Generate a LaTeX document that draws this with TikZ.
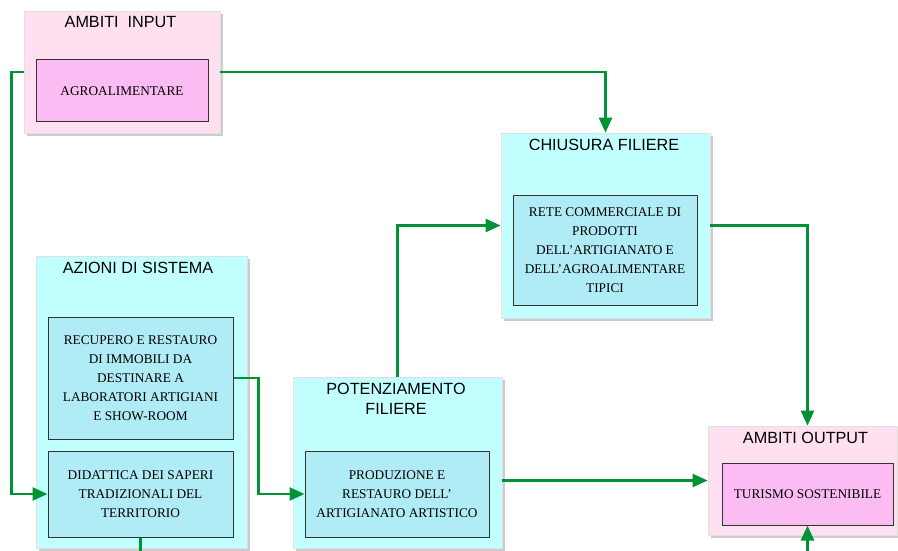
\documentclass[tikz,border=0pt]{standalone}
\usepackage{fontspec}
\setmainfont{Liberation Serif}
\newfontfamily\titlefont{Liberation Sans}
\usetikzlibrary{arrows.meta, shadows}

\definecolor{colFlow}{RGB}{0,146,54}
\definecolor{colPinkOut}{RGB}{255,224,240}
\definecolor{colPinkIn}{RGB}{251,187,243}
\definecolor{colCyanOut}{RGB}{194,255,255}
\definecolor{colCyanIn}{RGB}{176,236,246}

\tikzset{
    outerpink/.style={rectangle, draw=black!12, line width=0.8pt, fill=colPinkOut,
        drop shadow={shadow xshift=3pt, shadow yshift=-3pt, fill=black!40}},
    outercyan/.style={outerpink, fill=colCyanOut},
    innerpink/.style={rectangle, draw=black!80, line width=1pt, fill=colPinkIn,
        align=center, font=\fontsize{13.3}{19}\selectfont},
    innercyan/.style={innerpink, fill=colCyanIn},
    title/.style={align=center, inner sep=0pt, font=\titlefont\fontsize{16.2}{20}\selectfont},
    flowline/.style={draw=colFlow, line width=2.6pt},
    flow/.style={flowline, -{Triangle[length=15pt,width=13pt]}}
}

\begin{document}
\begin{tikzpicture}[x=1pt,y=-1pt]
    \useasboundingbox (0,0) rectangle (898,551);
    \clip (0,0) rectangle (898,551);
    % outer boxes
    \node[outerpink, minimum width=196pt, minimum height=122pt] (inpo) at (122,72) {};
    \node[outercyan, minimum width=209pt, minimum height=185pt] (chiuo) at (605.5,225.5) {};
    \node[outercyan, minimum width=211pt, minimum height=292pt] (aziono) at (141.5,402) {};
    \node[outercyan, minimum width=209pt, minimum height=171pt] (poto) at (397.5,462.5) {};
    \node[outerpink, minimum width=189pt, minimum height=109pt] (outo) at (802.5,480.5) {};
    % titles
    \node[title] (inpt) at (120.5,22) {AMBITI~~INPUT};
    \node[title] (chiut) at (604,145) {CHIUSURA FILIERE};
    \node[title] (azit) at (138,267.5) {AZIONI DI SISTEMA};
    \node[title] (pott) at (396,399) {POTENZIAMENTO\\FILIERE};
    \node[title] (outt) at (805.5,437.5) {AMBITI OUTPUT};
    % inner boxes
    \node[innerpink, minimum width=172pt, minimum height=62pt] (agro) at (122,91) {AGROALIMENTARE};
    \node[innercyan, minimum width=184pt, minimum height=110pt] (rete) at (605,250)
        {RETE COMMERCIALE DI\\PRODOTTI\\DELL’ARTIGIANATO E\\DELL’AGROALIMENTARE\\TIPICI};
    \node[innercyan, minimum width=185pt, minimum height=122pt] (recu) at (140.5,378)
        {RECUPERO E RESTAURO\\DI IMMOBILI DA\\DESTINARE A\\LABORATORI ARTIGIANI\\E SHOW-ROOM};
    \node[innercyan, minimum width=185pt, minimum height=86pt] (dida) at (140.5,494)
        {DIDATTICA DEI SAPERI\\TRADIZIONALI DEL\\TERRITORIO};
    \node[innercyan, minimum width=184pt, minimum height=86pt] (prod) at (397,494)
        {PRODUZIONE E\\RESTAURO DELL’\\ARTIGIANATO ARTISTICO};
    \node[innerpink, minimum width=171pt, minimum height=62pt] (turi) at (807.5,494) {TURISMO SOSTENIBILE};
    % free ends at the bottom
    \coordinate (didaout) at (140.5,560);
    \coordinate (turiin) at (807.5,560);
    % connectors
    \draw[flow] (inpo.west) -- ++(-12,0) |- (dida.west);
    \draw[flow] (inpo.east) -| (chiuo.north);
    \draw[flow] (recu.east) -- ++(25,0) |- (prod.west);
    \draw[flow] (poto.north) |- (chiuo.west);
    \draw[flow] (chiuo.east) -| (turi.north |- outo.north);
    \draw[flow] (poto.east |- outo) -- (outo.west);
    \draw[flowline] (dida.south) -- (didaout);
    \draw[flow] (turiin) -- (turi.south);
\end{tikzpicture}
\end{document}
